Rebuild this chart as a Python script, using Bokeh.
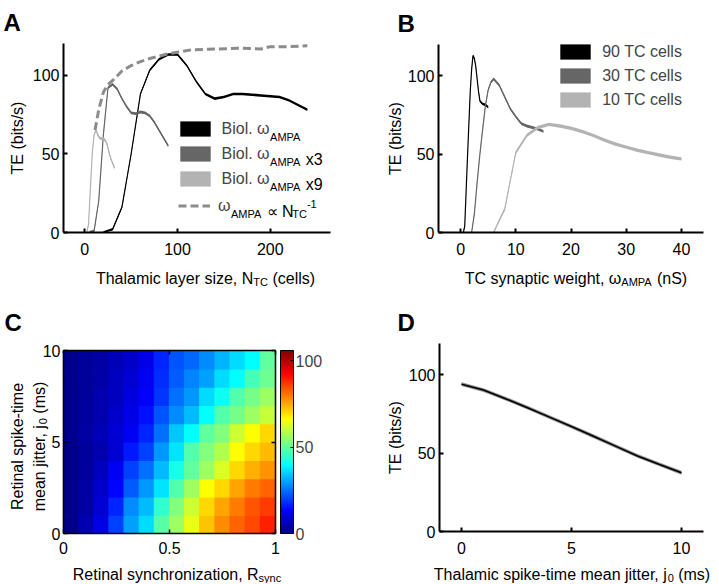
import numpy as np
from bokeh.plotting import figure
from bokeh.models import (Label, Legend, LegendItem, ColumnDataSource,
                          LinearColorMapper, ColorBar, FixedTicker, LinearAxis, Range1d)
from bokeh.layouts import column, row
from bokeh.transform import transform
from bokeh.embed import file_html
from bokeh.resources import INLINE

# ---------------- data ----------------
# Panel A
A_ntc_biol = [20, 30, 40, 50, 60, 70, 80, 90, 100, 110, 120, 130, 140, 150, 160, 170, 180, 190, 200, 210, 220, 230, 240]
A_te_biol = [0, 2, 16, 50, 88, 103, 110, 113, 113, 106, 96, 88, 85, 86, 88, 88, 87.5, 87, 86.5, 86, 84, 81, 78]
A_ntc_x3 = [5, 10, 15, 20, 25, 30, 35, 40, 45, 50, 55, 60, 65, 70, 75, 80, 85, 90]
A_te_x3 = [0, 1, 20, 62, 92, 94, 91, 85, 80, 76, 75.5, 76.5, 76, 74, 70, 65, 60, 55]
A_ntc_x9 = [2, 4, 6, 8, 10, 12, 14, 16, 18, 20, 22, 24, 26, 28, 30, 32]
A_te_x9 = [0, 5, 28, 50, 62, 65, 62, 60, 59.5, 59.5, 58.5, 56, 51, 47, 44, 41]
A_ntc_scaled = [11, 15, 20, 25, 30, 40, 50, 60, 70, 80, 90, 100, 115, 140, 170, 190, 200, 220, 240]
A_te_scaled = [65, 78, 89, 94, 96.5, 102.5, 106, 108.5, 110.5, 112, 113.5, 114.5, 116, 116.5, 117, 116.5, 118, 118, 118.5]
A_xticks = [0, 100, 200]

# Panel B
B_w_90 = [0.5, 0.75, 1.0, 1.25, 1.5, 1.75, 2.0, 2.25, 2.5, 2.75, 3.0, 3.25, 3.5, 4.0, 4.5, 5.0]
B_te_90 = [0, 4, 26, 48, 69, 90, 104, 113, 111, 106, 98, 90, 84, 82, 81.5, 80]
B_w_30 = [2, 2.5, 3, 3.5, 4, 4.5, 5, 5.5, 6, 7, 8, 9, 10, 11, 12, 13, 14, 15]
B_te_30 = [0, 12, 32, 50, 66, 81, 91, 96, 98, 94, 86.5, 79, 74, 69.5, 68, 67, 66, 64.5]
B_w_10 = [6, 8, 10, 12, 14, 16, 18, 20, 22, 24, 26, 28, 30, 32, 34, 36, 38, 40]
B_te_10 = [0, 15, 51, 62, 67, 69, 68, 66.5, 64.5, 62, 59, 56.5, 54.5, 52.5, 51, 49.5, 48, 47]
B_labels = ["90 TC cells", "30 TC cells", "10 TC cells"]
B_xticks = [0, 10, 20, 30, 40]

# Panel C  (rows: jitter bins 0-1 ... 9-10 ms ; columns: 14 R_sync bins 0..1)
C_n_rsync = 14
C_n_jitter = 10
C_te = [
    [1.5, 5, 10.5, 20, 30, 36, 49, 56, 64, 72, 78, 82, 85, 89],
    [1.5, 4, 9, 17, 28, 33, 45, 53, 61, 70, 75.5, 79.5, 83.5, 86],
    [1.5, 4, 8, 14, 23, 29, 37, 48, 56, 66, 70, 75.5, 79.5, 82],
    [1.5, 3, 7, 12, 20, 25, 33, 42, 50, 56, 62, 70, 74, 77],
    [1.5, 3, 5, 9, 16, 20, 29, 37, 48, 53, 58, 66, 70, 73],
    [2, 4, 6, 9, 12, 17, 25, 34, 40, 50, 53, 61, 66, 70],
    [2, 3.5, 5, 8, 11, 15, 22, 28, 33, 40, 48, 52, 56, 60],
    [2, 3, 5, 7, 10, 13, 19, 25, 29, 36, 41, 48, 52, 56],
    [2, 3, 4.5, 7, 9, 12, 18, 23, 27, 30, 36, 40, 47, 51],
    [2, 3, 4, 6, 8, 11, 17, 22, 24, 28, 32, 36, 40, 50],
]
C_te_max = 105.8
C_xticks = [0, 0.5, 1]
C_yticks = [0, 5, 10]
C_cbticks = [0, 50, 100]

# Panel D
D_jitter = [0, 1, 2, 3, 4, 5, 6, 7, 8, 9, 10]
D_te = [94, 90.3, 84.8, 79, 73, 67, 60.8, 54.5, 48.2, 42.8, 37.5]
D_xticks = [0, 5, 10]

TE_ticks = [0, 50, 100]

# ---------------- style ----------------
FONT = "Liberation Sans"
FS = 16
SUB = 11
BLACK, DARK, LIGHT, DASH = "#000000", "#666666", "#b3b3b3", "#8c8c8c"

W = {' ': 278, '!': 278, '(': 333, ')': 333, ',': 278, '-': 333, '.': 278, '/': 278,
     'A': 667, 'B': 667, 'C': 722, 'D': 722, 'E': 667, 'M': 833, 'N': 722, 'P': 667,
     'R': 722, 'S': 667, 'T': 611,
     'a': 556, 'b': 556, 'c': 500, 'd': 556, 'e': 556, 'f': 278, 'g': 556, 'h': 556, 'i': 222,
     'j': 222, 'k': 500, 'l': 222, 'm': 833, 'n': 556, 'o': 556, 'p': 556, 'r': 333, 's': 500,
     't': 278, 'u': 556, 'w': 722, 'x': 500, 'y': 500, 'z': 500, 'ω': 781, '∝': 600}


def tw(s, size):
    return sum(W.get(ch, 556) for ch in s) * size / 1000.0


class Panel:
    """A figure whose frame fills the whole canvas; data are placed so that the
    axes box lands on the requested page pixels."""

    def __init__(self, fig_box, ax_box, xd, yd):
        fl, ft, fw, fh = fig_box
        px0, px1, py_bot, py_top = ax_box
        sx = (xd[1] - xd[0]) / (px1 - px0)
        sy = (yd[1] - yd[0]) / (py_bot - py_top)
        x0 = xd[0] - (px0 - fl) * sx
        y0 = yd[0] - (ft + fh - py_bot) * sy
        self.fl, self.fb = fl, ft + fh
        p = figure(width=fw, height=fh, title=None,
                   x_range=Range1d(x0, x0 + fw * sx), y_range=Range1d(y0, y0 + fh * sy),
                   x_axis_type=None, y_axis_type=None,
                   output_backend="svg", toolbar_location=None, tools="",
                   min_border=0, min_border_left=0, min_border_right=0,
                   min_border_top=0, min_border_bottom=0)
        p.outline_line_color = None
        p.background_fill_color = "white"
        p.border_fill_color = "white"
        self.p = p

    def sx(self, page_x):
        return page_x - self.fl

    def sy(self, page_y):
        return self.fb - page_y

    def axis(self, side, loc, bounds, ticks, standoff, lw=2, labels=True):
        ax = LinearAxis(fixed_location=loc, bounds=bounds, ticker=FixedTicker(ticks=ticks),
                        axis_line_width=lw, axis_line_color="black",
                        major_tick_in=4, major_tick_out=0, major_tick_line_width=lw,
                        major_tick_line_color="black", minor_tick_line_color=None,
                        major_label_standoff=standoff, major_label_text_font=FONT,
                        major_label_text_font_size=f"{FS}px",
                        major_label_text_color="black" if labels else None)
        self.p.add_layout(ax, side)

    def label(self, px, py, text, size=FS, angle=0.0, align="left", bold=False):
        self.p.add_layout(Label(x=self.sx(px), y=self.sy(py), x_units="screen", y_units="screen",
                                text=text, angle=angle, text_font=FONT,
                                text_font_size=f"{size}px", text_align=align,
                                text_baseline="alphabetic", text_color="black",
                                text_font_style="bold" if bold else "normal"))

    def rich(self, parts, px, py, angle=0.0, center=True):
        """parts: (text, kind) with kind n / sub / sup; (px, py): page baseline anchor."""
        sizes = [FS if k == "n" else SUB for _, k in parts]
        total = sum(tw(t, s) for (t, _), s in zip(parts, sizes))
        pos = (py if angle else px)
        if center:
            pos = pos + total / 2.0 if angle else pos - total / 2.0
        for (t, k), s in zip(parts, sizes):
            off = {"n": 0.0, "sub": 3.0, "sup": -7.0}[k]   # + = downwards on page
            stripped = t.lstrip(" ")
            adv = tw(t[: len(t) - len(stripped)], s)
            if angle:
                pos -= adv
                self.label(px + off, pos, stripped, s, angle=angle)
                pos -= tw(stripped, s)
            else:
                pos += adv
                self.label(pos, py + off, stripped, s)
                pos += tw(stripped, s)


def series(p, x, y, color, half):
    band = p.varea(x=x, y1=[max(v - half, 0) for v in y], y2=[v + half for v in y], fill_color=color)
    p.line(x, y, line_color=color, line_width=1.2)
    return band


def legend(p, items, loc, gw, lh, standoff):
    lg = Legend(items=items, location=loc, orientation="vertical", glyph_width=gw, glyph_height=19,
                label_height=lh, label_standoff=standoff, spacing=0, padding=0, margin=0,
                border_line_color=None, background_fill_alpha=0,
                label_text_font=FONT, label_text_font_size=f"{FS}px")
    p.add_layout(lg)


# ---------------- Panel A ----------------
A = Panel((0, 0, 360, 295), (63, 330, 232, 43), (-23, 265), (0, 120))
pA = A.p
rA1 = series(pA, A_ntc_biol, A_te_biol, BLACK, 0.8)
rA2 = series(pA, A_ntc_x3, A_te_x3, DARK, 0.9)
rA3 = series(pA, A_ntc_x9, A_te_x9, LIGHT, 1.0)
rA4 = pA.line(A_ntc_scaled, A_te_scaled, line_color=DASH, line_width=3, line_dash="8 4")
A.axis("below", 0, (-23, 265), A_xticks, 10)
A.axis("left", -23, (0, 120), TE_ticks, 4)

legend(pA, [LegendItem(label="Biol. ω", renderers=[rA1]),
            LegendItem(label="Biol. ω", renderers=[rA2]),
            LegendItem(label="Biol. ω", renderers=[rA3])],
       (A.sx(175.5), A.sy(191)), 38, 25, 8)
legend(pA, [LegendItem(label="ω", renderers=[rA4])], (A.sx(178), A.sy(218.2)), 32, 25, 8)
tx = 175.5 + 38 + 8 + tw("Biol. ω", FS)
for i, extra in enumerate([[("AMPA", "sub")],
                           [("AMPA", "sub"), (" x3", "n")],
                           [("AMPA", "sub"), (" x9", "n")]]):
    A.rich(extra, tx, 116 + 12.5 + 25 * i + 5, center=False)
A.rich([("AMPA", "sub"), (" ∝ N", "n"), ("TC", "sub"), ("-1", "sup")],
       178 + 32 + 8 + tw("ω", FS), 205.7 + 5, center=False)

A.rich([("Thalamic layer size, N", "n"), ("TC", "sub"), (" (cells)", "n")], 205, 278)
A.label(17, 137.5, "TE (bits/s)", angle=np.pi / 2, align="center")
A.label(3, 22, "A", size=24, bold=True)

# ---------------- Panel B ----------------
B = Panel((360, 0, 358, 295), (438, 703, 232, 44), (-4, 44), (0, 120))
pB = B.p
rB1 = series(pB, B_w_90, B_te_90, BLACK, 0.8)
rB2 = series(pB, B_w_30, B_te_30, DARK, 0.9)
rB3 = series(pB, B_w_10, B_te_10, LIGHT, 1.1)
B.axis("below", 0, (-4, 44), B_xticks, 10)
B.axis("left", -4, (0, 120), TE_ticks, 4)
legend(pB, [LegendItem(label=B_labels[0], renderers=[rB1]),
            LegendItem(label=B_labels[1], renderers=[rB2]),
            LegendItem(label=B_labels[2], renderers=[rB3])],
       (B.sx(556.2), B.sy(111.7)), 38, 24, 8)
B.rich([("TC synaptic weight, ω", "n"), ("AMPA", "sub"), (" (nS)", "n")], 575.5, 278)
B.label(394.5, 138, "TE (bits/s)", angle=np.pi / 2, align="center")
B.label(397, 23, "B", size=24, bold=True)

# ---------------- Panel C ----------------
C = Panel((0, 295, 360, 288), (63, 275, 533, 350), (0, 1), (0, 10))
pC = C.p
jet = []
for t in np.linspace(0, 1, 256):
    r = min(max(1.5 - abs(4 * t - 3), 0), 1)
    g = min(max(1.5 - abs(4 * t - 2), 0), 1)
    b = min(max(1.5 - abs(4 * t - 1), 0), 1)
    jet.append("#%02x%02x%02x" % (int(r * 255), int(g * 255), int(b * 255)))
mapper = LinearColorMapper(palette=jet, low=0, high=C_te_max)
cx, cy, cv = [], [], []
for j in range(C_n_jitter):
    for i in range(C_n_rsync):
        cx.append((i + 0.5) / C_n_rsync)
        cy.append((j + 0.5) * 10.0 / C_n_jitter)
        cv.append(C_te[j][i])
srcC = ColumnDataSource(dict(x=cx, y=cy, v=cv))
pC.rect(x="x", y="y", width=1.0 / C_n_rsync, height=10.0 / C_n_jitter, source=srcC,
        fill_color=transform("v", mapper), line_color=transform("v", mapper), line_width=1.2)
C.axis("below", 0, (0, 1), C_xticks, 8, lw=1.5)
C.axis("left", 0, (0, 10), C_yticks, 3, lw=1.5)
C.axis("above", 10, (0, 1), C_xticks, 3, lw=1.5, labels=False)
C.axis("right", 1, (0, 10), C_yticks, 3, lw=1.5, labels=False)
cb = ColorBar(color_mapper=mapper, location=(C.sx(280), C.sy(533)), orientation="vertical",
              width=13, height=183, padding=0, margin=0, ticker=FixedTicker(ticks=C_cbticks),
              major_label_text_font=FONT, major_label_text_font_size=f"{FS}px",
              label_standoff=2, major_tick_in=3, major_tick_out=0, major_tick_line_color="black",
              bar_line_color="black", bar_line_width=1, border_line_color=None,
              background_fill_alpha=0)
pC.add_layout(cb)
C.rich([("Retinal synchronization, R", "n"), ("sync", "sub")], 176.5, 574)
C.rich([("Retinal spike-time", "n")], 17, 446, angle=np.pi / 2)
C.rich([("mean jitter, j", "n"), ("0", "sub"), (" (ms)", "n")], 39, 446, angle=np.pi / 2)
C.label(4, 322, "C", size=24, bold=True)

# ---------------- Panel D ----------------
D = Panel((360, 295, 358, 288), (439, 703, 531, 343), (-1, 11), (0, 120))
pD = D.p
pD.varea(x=D_jitter, y1=[v - 1.2 for v in D_te], y2=[v + 1.2 for v in D_te], fill_color="#909090")
pD.line(D_jitter, D_te, line_color="black", line_width=1.6)
D.axis("below", 0, (-1, 11), D_xticks, 10)
D.axis("left", -1, (0, 120), TE_ticks, 4)
D.rich([("Thalamic spike-time mean jitter, j", "n"), ("0", "sub"), (" (ms)", "n")], 571.5, 574)
D.label(394.5, 437, "TE (bits/s)", angle=np.pi / 2, align="center")
D.label(397, 322, "D", size=24, bold=True)

layout = column(row(pA, pB), row(pC, pD))
open("out.html", "w").write(file_html(layout, INLINE))
